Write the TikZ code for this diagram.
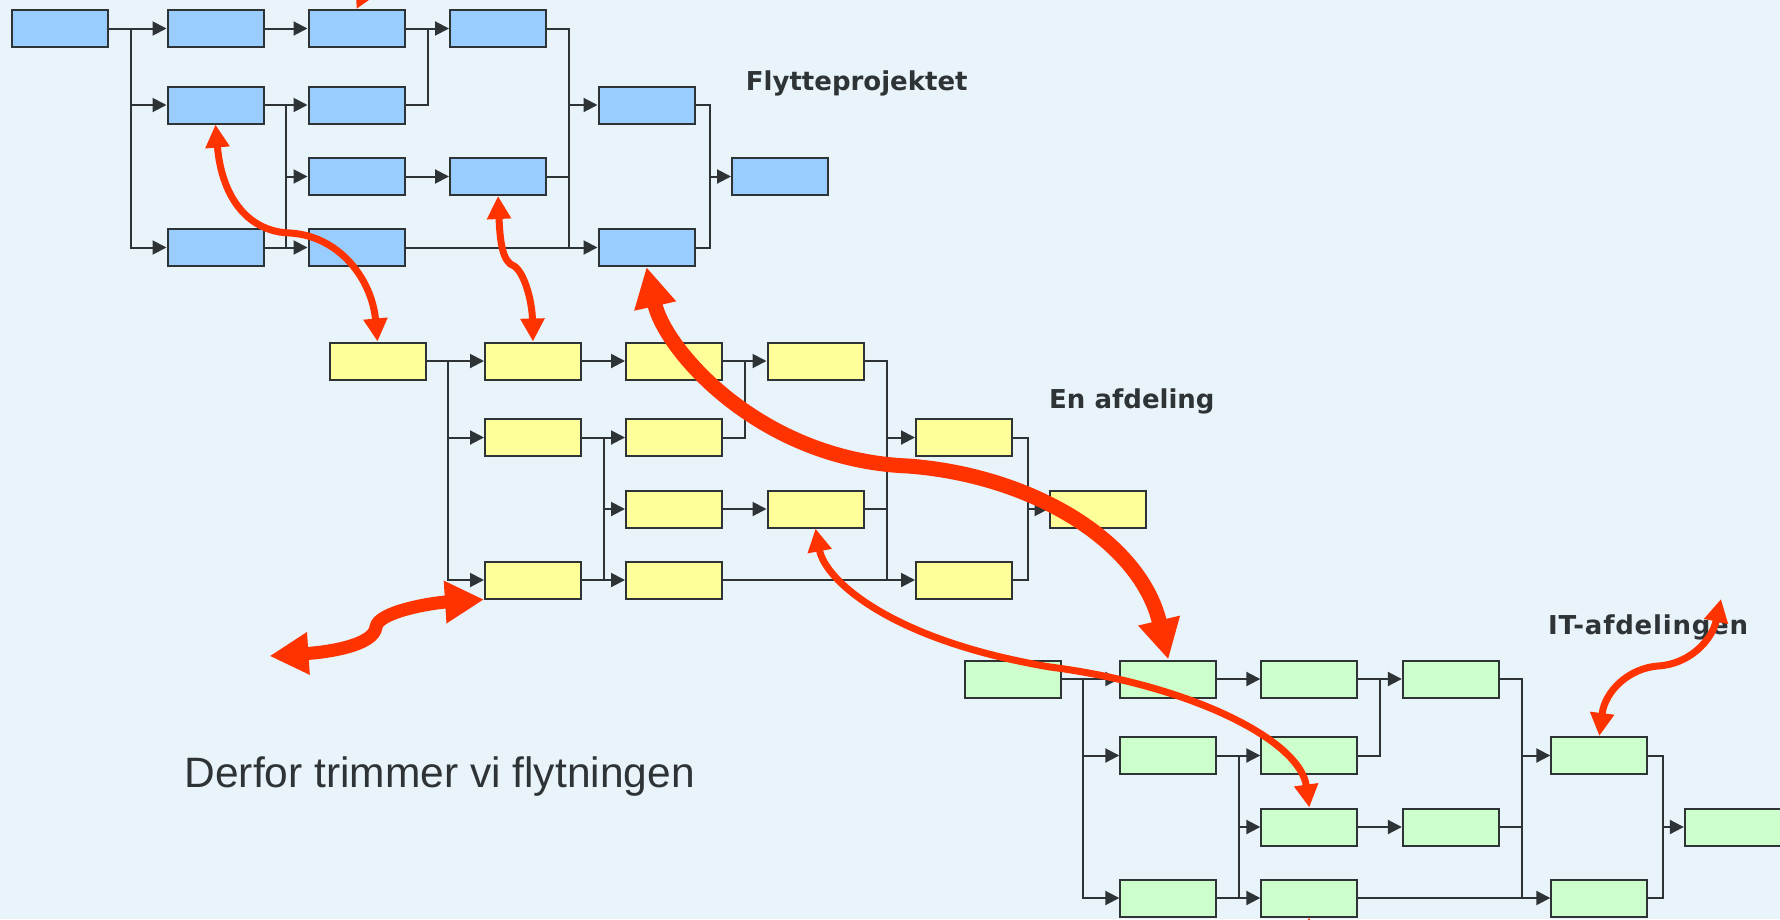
\documentclass[tikz,border=0pt]{standalone}
\usepackage{fontspec}
\setmainfont{DejaVu Sans}
\newfontfamily\plainfont{Liberation Sans}
\usepackage{tikz}
\usetikzlibrary{arrows.meta}

\definecolor{bgblue}{RGB}{232,243,250}
\definecolor{actblue}{RGB}{153,204,255}
\definecolor{actyellow}{RGB}{255,255,153}
\definecolor{actgreen}{RGB}{204,255,204}
\definecolor{edgegray}{RGB}{46,52,54}
\definecolor{linkred}{RGB}{255,51,0}

\begin{document}
\begin{tikzpicture}[x=1pt,y=-1pt,
  act/.style={draw=edgegray,line width=2pt,minimum width=96pt,minimum height=37pt,inner sep=0pt},
  wire/.style={draw=edgegray,line width=2pt},
  flow/.style={wire,-{Triangle[length=14pt,width=14pt]}},
  link/.style={draw=linkred,line width=7pt,{Triangle[length=23pt,width=23pt]}-{Triangle[length=23pt,width=23pt]}},
  midlink/.style={draw=linkred,line width=13pt,{Triangle[length=39pt,width=40pt]}-{Triangle[length=39pt,width=40pt]}},
  biglink/.style={draw=linkred,line width=15pt,{Triangle[length=40pt,width=40pt]}-{Triangle[length=40pt,width=40pt]}},
  title/.style={anchor=base west,inner sep=0pt,text=edgegray,font=\fontsize{26}{30}\selectfont\bfseries}]
\useasboundingbox (0,0) rectangle (1780,919);
\clip (0,0) rectangle (1780,919);
\fill[bgblue] (0,0) rectangle (1780,919);

% the same network three times
\foreach \p/\sx/\sy/\col in {b/0/0/actblue, y/317.5/332.5/actyellow, g/952.8/650.5/actgreen}{
\begin{scope}[shift={(\sx,\sy)}]
\foreach \n/\x/\y in {11/60/28.5, 21/215.5/28.5, 31/356.5/28.5, 41/498/28.5,
  22/215.5/105, 32/356.5/105, 33/356.5/176.5, 43/498/176.5,
  24/215.5/247.5, 34/356.5/247.5, 52/646.5/105, 54/646.5/247.5, 63/780/176.5}
  \node[act,fill=\col] (\p\n) at (\x,\y) {};
\coordinate (\p-ja) at (130.5,28.5);
\coordinate (\p-jb) at (286,105);
\coordinate (\p-jc) at (427.5,28.5);
\coordinate (\p-jd) at (569,105);
\coordinate (\p-je) at (710,176.5);
\draw[flow] (\p11.east) -- (\p21.west);
\draw[flow] (\p-ja) |- (\p22.west);
\draw[flow] (\p-ja) |- (\p24.west);
\draw[flow] (\p21.east) -- (\p31.west);
\draw[flow] (\p31.east) -- (\p41.west);
\draw[wire] (\p32.east) -| (\p-jc);
\draw[flow] (\p22.east) -- (\p32.west);
\draw[flow] (\p-jb) |- (\p33.west);
\draw[flow] (\p-jb) |- (\p34.west);
\draw[wire] (\p24.east) -| (\p-jb);
\draw[flow] (\p33.east) -- (\p43.west);
\draw[wire] (\p41.east) -| (\p-jd);
\draw[wire] (\p43.east) -| (\p-jd);
\draw[wire] (\p34.east) -| (\p-jd);
\draw[flow] (\p34.east) -- (\p54.west);
\draw[flow] (\p-jd) -- (\p52.west);
\draw[wire] (\p52.east) -| (\p-je);
\draw[wire] (\p54.east) -| (\p-je);
\draw[flow] (\p-je) -- (\p63.west);
\end{scope}
}

\node[title] (flyt) at (745.7,90.7) {Flytteprojektet};
\node[title] (afd) at (1049,408) {En afdeling};
\node[title] (itafd) at (1548,634.3) {\addfontfeature{LetterSpace=3}IT-afdelingen};
\node[anchor=base west,inner sep=0pt,text=edgegray,font=\plainfont\fontsize{42.5}{50}\selectfont]
  (motto) at (184.4,787.7) {Derfor trimmer vi flytningen};

% red links between the plans
\coordinate (topend) at (383,-45);
\coordinate (botend) at (1300,975);
\coordinate (leftend) at (269.5,656);
\coordinate (itend) at (1721,599);
\draw[link] (topend) -- (b31.north);
\draw[link] (botend) -- (g34.south);
\draw[link] (b22.south) .. controls (222,200) and (250,232) .. (290,233)
  .. controls (340,236) and (372,280) .. (y11.north);
\draw[link] (b43.south) .. controls (500,240) and (502,262) .. (514,266)
  .. controls (524,272) and (532,300) .. (y21.north);
\draw[link] (y43.south) .. controls (825,580) and (890,640) .. (1050,667)
  .. controls (1190,685) and (1300,740) .. (g33.north);
\draw[link] (g52.north) .. controls (1605,690) and (1630,668) .. (1658,666)
  .. controls (1690,664) and (1712,640) .. (itend);
\draw[midlink] (leftend) .. controls (330,652) and (374,645) .. (376,627)
  .. controls (378,612) and (430,603) .. (y24.south west);
\draw[biglink] (b54.south) .. controls (665,350) and (760,460) .. (908,466)
  .. controls (1030,475) and (1140,540) .. (g21.north);
\end{tikzpicture}
\end{document}
